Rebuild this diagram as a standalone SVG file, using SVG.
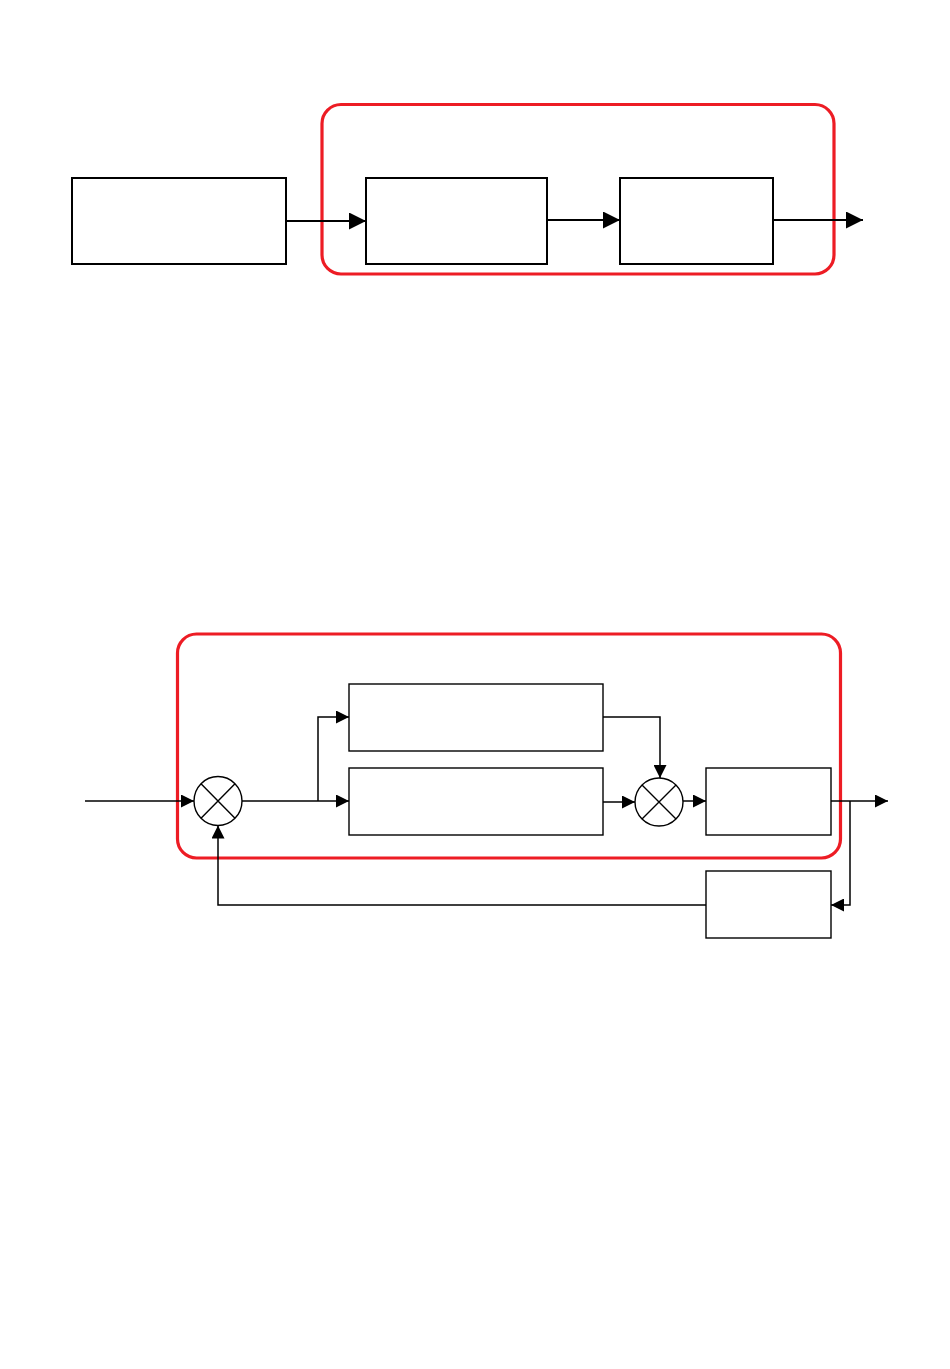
<svg xmlns="http://www.w3.org/2000/svg" width="950" height="1369" viewBox="0 0 950 1369">
<style>
.frame{fill:none;stroke:#ed1c24;stroke-width:3.2}
.box1{fill:none;stroke:#000;stroke-width:2}
.box2{fill:none;stroke:#000;stroke-width:1.4}
.w1{fill:none;stroke:#000;stroke-width:2}
.w2{fill:none;stroke:#000;stroke-width:1.5}
</style>
<defs>
<marker id="a1" markerUnits="userSpaceOnUse" markerWidth="17" markerHeight="17" refX="17" refY="8.5" orient="auto" viewBox="0 0 17 17"><path d="M0,0 L17,8.5 L0,17 z" fill="#000"/></marker>
<marker id="a2" markerUnits="userSpaceOnUse" markerWidth="13" markerHeight="13" refX="13" refY="6.5" orient="auto" viewBox="0 0 13 13"><path d="M0,0 L13,6.5 L0,13 z" fill="#000"/></marker>
</defs>
<rect width="950" height="1369" fill="#fff"/>
<g id="top-frame"><rect class="frame" x="322" y="104.5" width="512" height="169.5" rx="19"/></g>
<g id="t-box1"><rect class="box1" x="72" y="178" width="214" height="86"/></g>
<g id="t-box2"><rect class="box1" x="366" y="178" width="181" height="86"/></g>
<g id="t-box3"><rect class="box1" x="620" y="178" width="153" height="86"/></g>
<g id="bottom-frame"><rect class="frame" x="177.5" y="634" width="663" height="224" rx="19"/></g>
<g id="b-sum1"><ellipse class="box2" cx="218" cy="801" rx="24" ry="24.5"/><path class="box2" d="M201,783.7 L235,818.3 M235,783.7 L201,818.3"/></g>
<g id="b-sum2"><circle class="box2" cx="659" cy="802" r="24"/><path class="box2" d="M642,785 L676,819 M676,785 L642,819"/></g>
<g id="b-boxA"><rect class="box2" x="349" y="684" width="254" height="67"/></g>
<g id="b-boxB"><rect class="box2" x="349" y="768" width="254" height="67"/></g>
<g id="b-boxC"><rect class="box2" x="706" y="768" width="125" height="67"/></g>
<g id="b-boxD"><rect class="box2" x="706" y="871" width="125" height="67"/></g>
<g id="connectors">
<path class="w1" d="M286,221 L366,221" marker-end="url(#a1)"/>
<path class="w1" d="M547,220 L620,220" marker-end="url(#a1)"/>
<path class="w1" d="M773,220 L863,220" marker-end="url(#a1)"/>
<path class="w2" d="M85,801 L194,801" marker-end="url(#a2)"/>
<path class="w2" d="M242,801 L349,801" marker-end="url(#a2)"/>
<path class="w2" d="M318,801 L318,717 L349,717" marker-end="url(#a2)"/>
<path class="w2" d="M603,717 L660,717 L660,778" marker-end="url(#a2)"/>
<path class="w2" d="M603,802 L635,802" marker-end="url(#a2)"/>
<path class="w2" d="M683,801 L706,801" marker-end="url(#a2)"/>
<path class="w2" d="M831,801 L888,801" marker-end="url(#a2)"/>
<path class="w2" d="M850,801 L850,905 L831,905" marker-end="url(#a2)"/>
<path class="w2" d="M706,905 L218,905 L218,825.5" marker-end="url(#a2)"/>
</g>
</svg>
